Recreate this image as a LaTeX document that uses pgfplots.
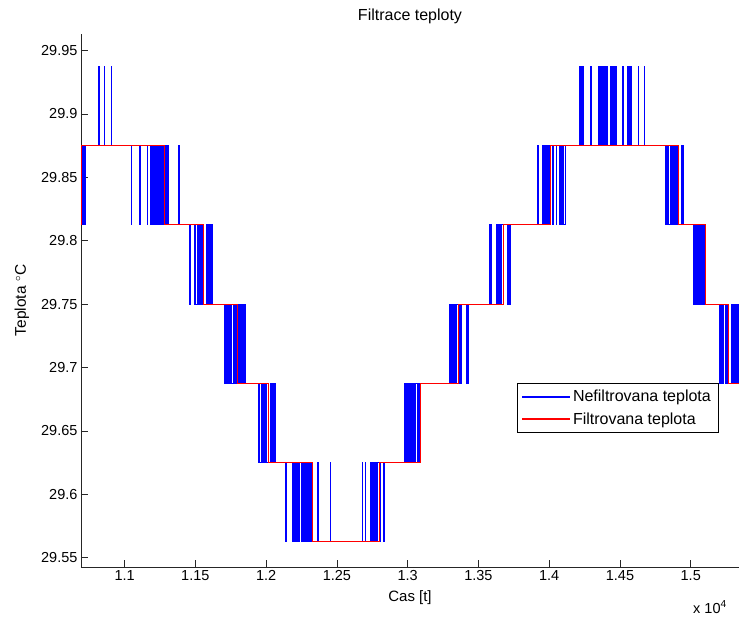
\documentclass[border=0pt]{standalone}
\usepackage{fontspec}
\setmainfont{Liberation Sans}
\usepackage{pgfplots}
\pgfplotsset{compat=1.18}
\newcommand{\fs}{\fontsize{14.5}{17}\selectfont}
\newcommand{\fl}{\fontsize{16}{19}\selectfont}
\begin{document}
\begin{tikzpicture}[x=1pt,y=1pt]
\useasboundingbox (-81,-50) rectangle (658,567);
\begin{axis}[
    at={(0,0)}, anchor=south west,
    scale only axis, width=658pt, height=533pt,
    axis lines=left, axis line style={-, black!85, line width=0.6pt},
    tick align=inside, major tick length=7pt,
    tick style={black!85, line width=0.6pt},
    xmin=10692, xmax=15341, ymin=29.5427, ymax=29.963,
    scaled x ticks=false, scaled y ticks=false,
    xtick={11000,11500,12000,12500,13000,13500,14000,14500,15000},
    xticklabels={1.1,1.15,1.2,1.25,1.3,1.35,1.4,1.45,1.5},
    ytick={29.55,29.6,29.65,29.7,29.75,29.8,29.85,29.9,29.95},
    yticklabels={29.55,29.6,29.65,29.7,29.75,29.8,29.85,29.9,29.95},
    /pgf/number format/assume math mode=true,
    ticklabel style={font=\fs},
    title={Filtrace teploty},
    title style={font=\fl, at={(axis description cs:0.5,1.0225)}, anchor=center, yshift=0pt},
    xlabel={Cas [t]},
    xlabel style={font=\fontsize{15}{18}\selectfont, at={(axis description cs:0.5,-0.058)}, anchor=center, yshift=0pt},
    ylabel={Teplota $^{\circ}$C},
    ylabel style={font=\fontsize{15.5}{18}\selectfont, at={(axis description cs:-0.0897,0.5)}, anchor=center, xshift=0pt},
    legend style={at={(axis description cs:0.662,0.3449)}, anchor=north west,
        draw=black, font=\fl, inner xsep=5pt, inner ysep=5pt,
        row sep=5pt, cells={anchor=west}},
    legend image code/.code={\draw[#1, line width=1.2pt] (0pt,0pt) -- (48pt,0pt);},
]
% nefiltrovana (surova) teplota
\addplot[blue, draw=blue, const plot, line width=0.9pt] coordinates {
(10692,29.8125)(10697,29.875)(10700,29.8125)(10704,29.875)(10710,29.8125)(10714,29.875)(10718,29.8125)(10722,29.875)
(10816,29.9375)(10820,29.875)(10857,29.9375)(10861,29.875)(10904,29.9375)(10908,29.875)
(11045,29.8125)(11049,29.875)(11104,29.8125)(11108,29.875)(11111,29.8125)(11114,29.875)(11160,29.8125)(11164,29.875)
(11181,29.8125)(11188,29.875)(11192,29.8125)(11199,29.875)(11204,29.8125)(11210,29.875)(11215,29.8125)(11222,29.875)(11226,29.8125)(11232,29.875)(11238,29.8125)(11246,29.875)(11250,29.8125)(11256,29.875)(11260,29.8125)(11267,29.875)(11270,29.8125)(11276,29.875)(11282,29.8125)
(11292,29.875)(11297,29.8125)(11303,29.875)(11313,29.8125)(11384,29.875)(11388,29.8125)
(11459,29.75)(11463,29.8125)
(11492,29.75)(11498,29.8125)(11503,29.75)(11512,29.8125)(11516,29.75)(11524,29.8125)(11528,29.75)(11536,29.8125)(11540,29.75)(11548,29.8125)(11551,29.75)
(11580,29.8125)(11585,29.75)(11592,29.8125)(11598,29.75)(11604,29.8125)(11608,29.75)(11616,29.8125)(11621,29.75)
(11706,29.6875)(11712,29.75)(11716,29.6875)(11722,29.75)(11726,29.6875)(11733,29.75)(11737,29.6875)(11744,29.75)(11748,29.6875)(11755,29.75)(11758,29.6875)(11766,29.75)(11770,29.6875)(11774,29.75)(11782,29.6875)(11788,29.75)(11792,29.6875)
(11806,29.75)(11812,29.6875)(11818,29.75)(11826,29.6875)(11832,29.75)(11840,29.6875)(11846,29.75)(11852,29.6875)
(11946,29.625)(11952,29.6875)(11956,29.625)(11964,29.6875)(11968,29.625)(11976,29.6875)(11980,29.625)(11988,29.6875)(11992,29.625)(12000,29.6875)(12004,29.625)
(12029,29.6875)(12035,29.625)(12043,29.6875)(12050,29.625)(12062,29.6875)(12068,29.625)
(12137,29.5625)(12141,29.625)(12184,29.5625)(12191,29.625)(12195,29.5625)(12203,29.625)(12207,29.5625)(12214,29.625)(12218,29.5625)(12226,29.625)(12230,29.5625)(12236,29.625)(12250,29.5625)(12257,29.625)(12261,29.5625)(12269,29.625)(12273,29.5625)(12280,29.625)(12284,29.5625)(12292,29.625)(12296,29.5625)(12303,29.625)(12307,29.5625)(12314,29.625)(12318,29.5625)
(12366,29.625)(12370,29.5625)(12453,29.625)(12457,29.5625)(12679,29.625)(12683,29.5625)(12700,29.625)(12704,29.5625)(12735,29.625)(12742,29.5625)(12746,29.625)(12753,29.5625)(12757,29.625)(12764,29.5625)(12768,29.625)(12775,29.5625)(12779,29.625)(12786,29.5625)(12790,29.625)
(12806,29.5625)(12810,29.625)(12832,29.5625)(12836,29.625)
(12975,29.6875)(12982,29.625)(12986,29.6875)(12994,29.625)(12998,29.6875)(13006,29.625)(13010,29.6875)(13018,29.625)(13022,29.6875)(13030,29.625)(13034,29.6875)(13042,29.625)(13046,29.6875)(13054,29.625)(13058,29.6875)(13066,29.625)(13070,29.6875)(13078,29.625)(13082,29.6875)
(13295,29.75)(13302,29.6875)(13306,29.75)(13314,29.6875)(13318,29.75)(13326,29.6875)(13330,29.75)(13338,29.6875)(13342,29.75)
(13364,29.6875)(13370,29.75)(13376,29.6875)(13383,29.75)(13413,29.6875)(13420,29.75)(13424,29.6875)(13430,29.75)
(13578,29.8125)(13584,29.75)(13586,29.8125)(13590,29.75)(13630,29.8125)(13637,29.75)(13641,29.8125)(13649,29.75)(13653,29.8125)(13660,29.75)(13664,29.8125)
(13708,29.75)(13714,29.8125)(13720,29.75)(13729,29.8125)
(13917,29.875)(13921,29.8125)(13952,29.875)(13958,29.8125)(13962,29.875)(13968,29.8125)(13972,29.875)(13978,29.8125)(13982,29.875)(13988,29.8125)(13992,29.875)(13998,29.8125)(14002,29.875)
(14025,29.8125)(14030,29.875)(14049,29.8125)(14053,29.875)(14072,29.8125)(14078,29.875)(14082,29.8125)(14088,29.875)(14092,29.8125)(14098,29.875)(14104,29.8125)(14112,29.875)
(14211,29.9375)(14216,29.875)(14220,29.9375)(14226,29.875)(14230,29.9375)(14236,29.875)(14238,29.9375)(14242,29.875)
(14291,29.9375)(14295,29.875)
(14347,29.9375)(14351,29.875)(14356,29.9375)(14360,29.875)
(14371,29.9375)(14377,29.875)(14381,29.9375)(14388,29.875)(14393,29.9375)(14400,29.875)(14404,29.9375)(14411,29.875)
(14435,29.9375)(14440,29.875)(14446,29.9375)(14451,29.875)(14458,29.9375)(14463,29.875)(14468,29.9375)(14473,29.875)
(14515,29.9375)(14519,29.875)(14522,29.9375)(14526,29.875)
(14550,29.9375)(14554,29.875)(14560,29.9375)(14565,29.875)(14574,29.9375)(14580,29.875)
(14630,29.9375)(14634,29.875)(14672,29.9375)(14676,29.875)
(14823,29.8125)(14830,29.875)(14834,29.8125)(14842,29.875)(14846,29.8125)(14854,29.875)(14858,29.8125)(14866,29.875)(14870,29.8125)(14878,29.875)(14882,29.8125)(14890,29.875)(14894,29.8125)(14900,29.875)(14904,29.8125)
(14931,29.875)(14935,29.8125)(14941,29.875)(14945,29.8125)
(15018,29.75)(15024,29.8125)(15028,29.75)(15036,29.8125)(15040,29.75)(15048,29.8125)(15052,29.75)(15060,29.8125)(15064,29.75)(15072,29.8125)(15076,29.75)(15084,29.8125)(15088,29.75)(15096,29.8125)(15100,29.75)
(15202,29.6875)(15208,29.75)(15212,29.6875)(15218,29.75)(15222,29.6875)(15230,29.75)(15242,29.6875)(15246,29.75)(15254,29.6875)(15258,29.75)(15265,29.6875)
(15289,29.75)(15293,29.6875)(15300,29.75)(15306,29.6875)(15310,29.75)(15318,29.6875)(15322,29.75)(15330,29.6875)(15334,29.75)(15341,29.6875)
};
\addlegendentry{Nefiltrovana teplota}
% filtrovana teplota
\addplot[red, draw=red, const plot, line width=1pt] coordinates {
(10692,29.8125)(10699,29.875)(11282,29.8125)(11560,29.75)(11798,29.6875)(12017,29.625)(12330,29.5625)
(12799,29.625)(13093,29.6875)(13359,29.75)(13676,29.8125)(14006,29.875)(14912,29.8125)(15106,29.75)
(15270,29.6875)(15341,29.6875)
};
\addlegendentry{Filtrovana teplota}
\end{axis}
\node[font=\fs, anchor=center] at (629,-40) {x 10\textsuperscript{4}};
\end{tikzpicture}
\end{document}
